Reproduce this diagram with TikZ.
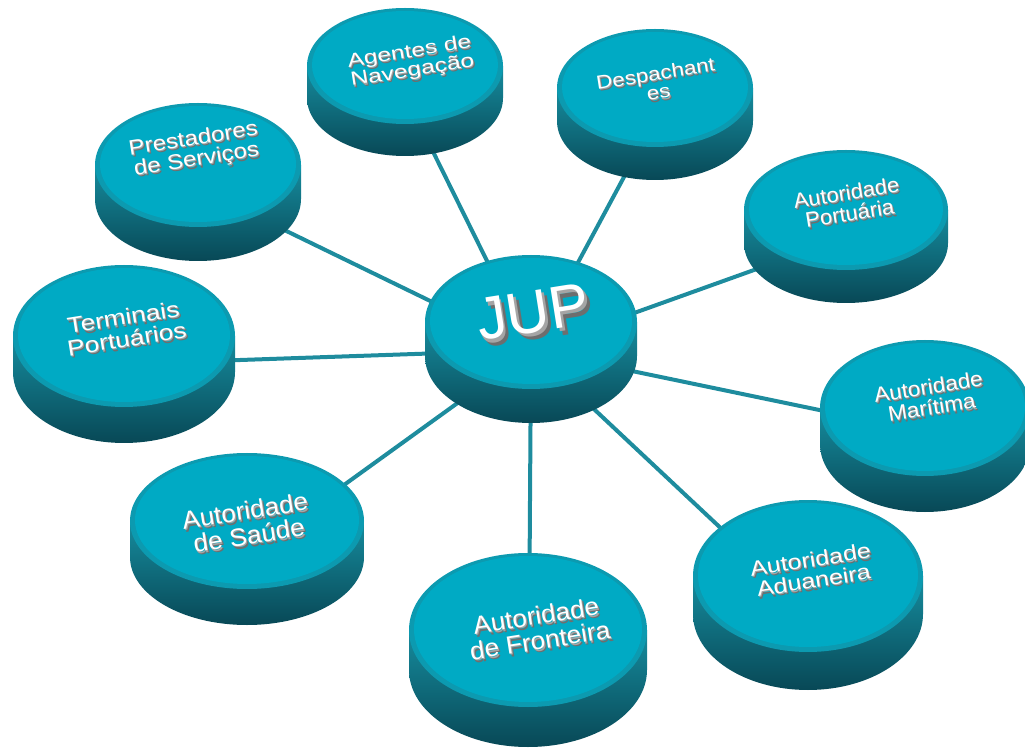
\documentclass[tikz,border=0pt]{standalone}
\usepackage{fontspec}
\setmainfont{Liberation Sans}
\definecolor{face}{RGB}{0,170,196}
\definecolor{rim}{RGB}{12,154,176}
\definecolor{sidetop}{RGB}{22,140,158}
\definecolor{sidebot}{RGB}{8,72,86}
\definecolor{link}{RGB}{30,140,158}
\definecolor{extr}{RGB}{110,110,110}
\definecolor{extrlt}{RGB}{165,165,165}
\begin{document}
\begin{tikzpicture}[x=1pt, y=1pt, line join=round, line cap=round,
	spoke/.style={draw=link, line width=4pt},
	lbl/.style={text=white, align=center, inner sep=0pt},
	lblshade/.style={text=extr, align=center, inner sep=0pt},
	lbldepth/.style={text=extrlt, align=center, inner sep=0pt}]
	\useasboundingbox (0,0) rectangle (1025,753);
	\path 
	(531,403) coordinate (J)
	(405,658) coordinate (AG)
	(660,643) coordinate (DE)
	(198,565) coordinate (PR)
	(846,516) coordinate (PO)
	(124,389) coordinate (TE)
	(925,321) coordinate (MA)
	(808,143) coordinate (AD)
	(529,103) coordinate (FR)
	(247,198) coordinate (SA)
	;
	\foreach \p in {AG,DE,PR,PO,TE,MA,AD,FR,SA}
	\draw[spoke] (J) -- (\p);
	% discs: name/x/y/rx/ry/thickness/text x/text y/size/stretch/text
	\foreach \n/\x/\y/\rx/\ry/\h/\tx/\ty/\s/\xs/\txt in {
		age/405/687/98/58/32/411/691/19/1.3/{Agentes de\\Navegação},
		des/655/665/98/59/33/657/670/19/1.18/{Despachant\\es},
		pre/198/588/103/62/34/195/603/21/1.15/{Prestadores\\de Serviços},
		por/846/543/102/60/33/848/550/21/1.05/{Autoridade\\Portuária},
		jup/531/431/106/67/34/533/441/60/1.0/JUP,
		ter/124/417/111/71/36/125/425/22/1.2/{Terminais\\Portuários},
		mar/925/345/105/68/36/930/356/21/1.08/{Autoridade\\Marítima},
		sau/247/232/117/68/36/247/230/25/1.05/{Autoridade\\de Saúde},
		adu/808/177/115/76/38/812/183/21/1.2/{Autoridade\\Aduaneira},
		fro/528/123/119/77/40/538/125/25/1.05/{Autoridade\\de Fronteira}}
	{
		\shade[top color=sidetop, bottom color=sidebot] (\x-\rx,\y) -- (\x-\rx,\y-\h)
		arc[start angle=180, end angle=360, x radius=\rx pt, y radius=\ry pt]
		-- (\x+\rx,\y) -- cycle;
		\fill[rim] (\x,\y) ellipse[x radius=\rx pt, y radius=\ry pt];
		\fill[face] (\x,\y+1) ellipse[x radius={\rx*1pt-5pt}, y radius={\ry*1pt-4pt}];
		\node[lblshade, rotate=9, xscale=\xs, font=\fontsize{\s pt}{\s pt}\selectfont]
		(\n-s) at (\tx+\s/11,\ty-\s/9) {\txt};
		\node[lbldepth, rotate=9, xscale=\xs, font=\fontsize{\s pt}{\s pt}\selectfont]
		(\n-d) at (\tx+\s/22,\ty-\s/18) {\txt};
		\node[lbl, rotate=9, xscale=\xs, font=\fontsize{\s pt}{\s pt}\selectfont]
		(\n) at (\tx,\ty) {\txt};
	}
\end{tikzpicture}
\end{document}
